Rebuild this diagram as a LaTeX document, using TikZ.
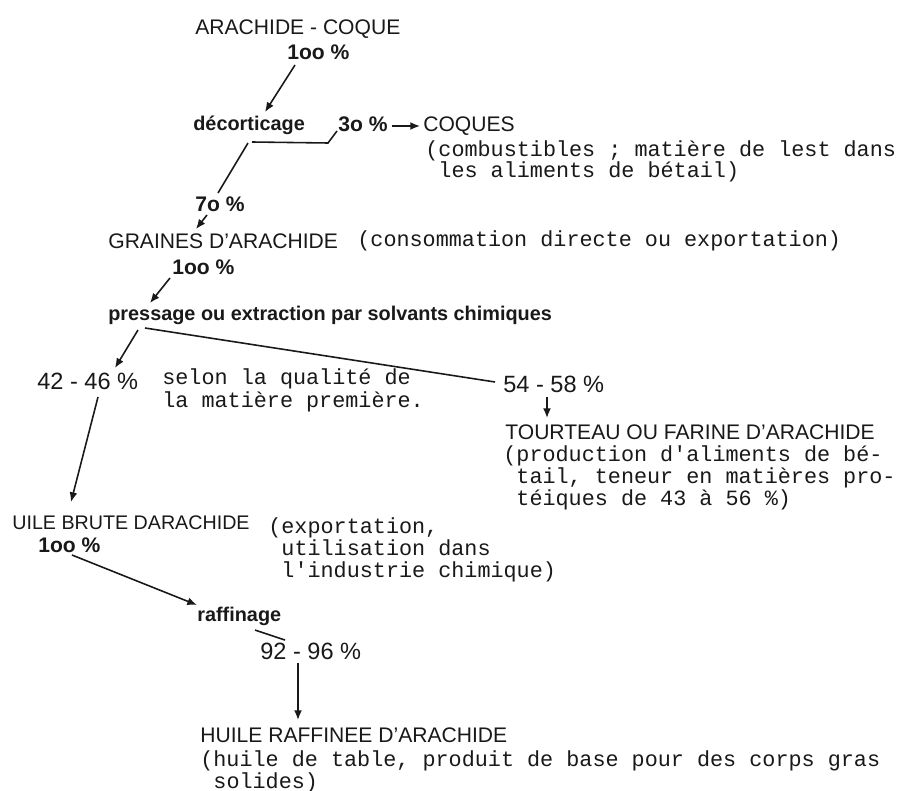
\documentclass[tikz,border=0pt]{standalone}
\usepackage{fontspec}
\setsansfont{Liberation Sans}
\setmonofont{Liberation Mono}
\usepackage{tikz}
\usetikzlibrary{arrows.meta,positioning,calc}
\definecolor{clrInk}{RGB}{25,25,25}
\tikzset{
  product/.style={anchor=base west,inner sep=0pt,text=clrInk,
    font=\sffamily\fontsize{12}{14}\selectfont},
  share/.style={anchor=base west,inner sep=0pt,text=clrInk,
    font=\sffamily\bfseries\fontsize{12}{14}\selectfont},
  spread/.style={share,font=\sffamily\fontsize{13.4}{15}\selectfont},
  process/.style={anchor=base west,inner sep=0pt,text=clrInk,
    font=\sffamily\bfseries\fontsize{11.3}{13}\selectfont},
  remark/.style={anchor=base west,inner sep=0pt,text=clrInk,align=left,
    font=\ttfamily\fontsize{12.4}{12.4}\selectfont},
  aside/.style={remark,font=\ttfamily\fontsize{12.4}{10.4}\selectfont},
  flow/.style={-{Latex[length=5.5pt,width=4.5pt]},line width=0.9pt,draw=clrInk},
  split/.style={line width=0.9pt,draw=clrInk}
}
\begin{document}
\begin{tikzpicture}[x=0.02cm,y=-0.02cm]
  \useasboundingbox (0,0) rectangle (898,790);
  \fill[white] (0,0) rectangle (898,790);

  \node[product] (nut) at (195,35) {ARACHIDE - COQUE};
  \node[share] (nutShare) at (287,60) {1oo \%};
  \node[process] (husking) at (193,131) {décorticage};
  \node[share] (hullShare) at (338,132) {3o \%};
  \node[product] (hulls) at (423,132) {COQUES};
  \node[remark] (hullUse) at (425,178)
    {(combustibles ; matière de lest dans\\\phantom{(}les aliments de bétail)};
  \node[share] (kernelShare) at (195,212) {7o \%};

  \node[product] (kernels) at (108,249) {GRAINES D'ARACHIDE};
  \node[remark] (kernelUse) at (357,247) {(consommation directe ou exportation)};
  \node[share] (kernelTotal) at (172,275) {1oo \%};
  \node[process] (pressing) at (108,320)
    {pressage ou extraction par solvants chimiques};
  \node[spread] (oilShare) at (37,389) {42 - 46 \%};
  \node[aside] (oilNote) at (162,407) {selon la qualité de\\la matière première.};
  \node[spread] (cakeShare) at (503,392) {54 - 58 \%};

  \node[product] (cake) at (505,439) {TOURTEAU OU FARINE D'ARACHIDE};
  \node[remark] (cakeUse) at (503,505)
    {(production d'aliments de bé-\\\phantom{(}tail, teneur en matières pro-\\
     \phantom{(}téiques de 43 à 56 \%)};

  \node[product,font=\sffamily\fontsize{11.2}{13}\selectfont] (crude) at (12,529)
    {UILE BRUTE DARACHIDE};
  \node[remark] (crudeUse) at (268,577)
    {(exportation,\\\phantom{(}utilisation dans\\\phantom{(}l'industrie chimique)};
  \node[share] (crudeTotal) at (38,552) {1oo \%};
  \node[process] (refining) at (197,621) {raffinage};
  \node[spread] (refinedShare) at (260,659) {92 - 96 \%};

  \node[product] (refined) at (200,742) {HUILE RAFFINEE D'ARACHIDE};
  \node[remark] (refinedUse) at (200,788)
    {(huile de table, produit de base pour des corps gras\\\phantom{(}solides)};

  \draw[flow] ($(nutShare.base west)+(8,5)$) -- ($(husking.base west)+(72,-19)$);
  \draw[split] ($(husking.base west)+(55,12)$) -- ($(kernelShare.base west)+(23,-19)$);
  \draw[flow] ($(kernelShare.base west)+(12,3)$) -- ($(kernels.base west)+(88,-20)$);
  \draw[split] ($(husking.base west)+(59,11)$) -- ($(hullShare.base west)+(-10,11)$)
    -- ($(hullShare.base west)+(-1,-1)$);
  \draw[flow] ($(hullShare.base east)+(4,-6)$) -- ($(hulls.base west)+(-3,-6)$);
  \draw[flow] ($(kernelTotal.base west)+(-2,3)$) -- ($(pressing.base west)+(42,-17)$);
  \draw[split] ($(pressing.base west)+(37,8)$) -- ($(cakeShare.base west)+(-8,-10)$);
  \draw[flow] ($(pressing.base west)+(30,10)$) -- ($(oilShare.base west)+(78,-21)$);
  \draw[flow] ($(cakeShare.base west)+(44,5)$) -- ($(cake.base west)+(42,-21)$);
  \draw[flow] ($(oilShare.base west)+(61,8)$) -- ($(crude.base west)+(59,-27)$);
  \draw[flow] ($(crudeTotal.base west)+(34,3)$) -- ($(refining.base west)+(0,-16)$);
  \draw[split] ($(refining.base west)+(58,9)$) -- ($(refinedShare.base west)+(25,-19)$);
  \draw[flow] ($(refinedShare.base west)+(38,4)$) -- ($(refined.base west)+(98,-22)$);
\end{tikzpicture}
\end{document}
